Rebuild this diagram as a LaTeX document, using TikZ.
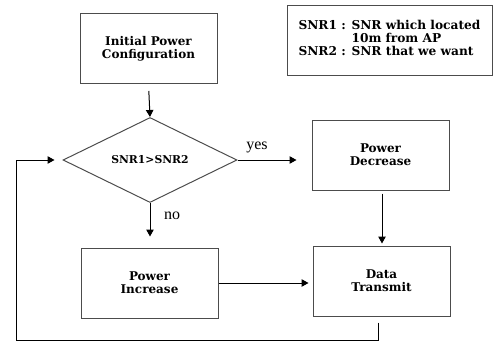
\documentclass[tikz,border=0pt]{standalone}
\usepackage{fontspec}
\setmainfont{DejaVu Serif}
\newfontfamily\lserif{Liberation Serif}
\usetikzlibrary{shapes.geometric,arrows.meta}
\tikzset{
  box/.style={draw=black!70, line width=1pt, minimum width=137pt, minimum height=70pt, inner sep=0pt, align=center, font=\bfseries\fontsize{12}{13}\selectfont},
  decision/.style={draw=black!70, line width=1pt, diamond, aspect=2, minimum width=174pt, minimum height=85pt, inner sep=0pt, font=\bfseries\fontsize{10.8}{12}\selectfont},
  arr/.style={draw=black, line width=1pt, -{Triangle[length=7pt,width=7.5pt]}},
  lbl/.style={font=\lserif\fontsize{16}{18}\selectfont, inner sep=0pt}
}
\begin{document}
\begin{tikzpicture}[x=1pt,y=-1pt]
\useasboundingbox (0,0) rectangle (493,343);
\node[box] (init) at (148.5,48.5) {Initial Power\\Configuration};
\node[box, minimum width=205pt, minimum height=70pt, font=\bfseries\fontsize{12.2}{12.5}\selectfont] (legend) at (389.5,40) {\begin{tabular}{@{}l@{ }c@{ }l@{}}SNR1 & : & SNR which located\\ & & 10m from AP\\ SNR2 & : & SNR that we want\end{tabular}};
\node[decision] (dia) at (150,160) {SNR1>SNR2};
\node[box] (dec) at (380.5,155) {Power\\Decrease};
\node[box] (trans) at (381.5,281) {Data\\Transmit};
\node[box] (inc) at (149.5,283) {Power\\Increase};
\node[lbl] (yes) at (257,147) {yes};
\node[lbl] (no) at (172,216) {no};
\coordinate (lb) at (16,340);
\draw[arr, shorten <=7pt] (init.south) -- (dia.north);
\draw[arr, shorten >=15pt] (dia.east) -- (dia.east -| dec.west);
\draw[arr, shorten >=11pt] (dia.south) -- (dia.south |- inc.north);
\draw[arr, shorten <=3pt, shorten >=2pt] ([xshift=1.5pt]dec.south) -- ([xshift=0.5pt]trans.north);
\draw[arr, shorten >=4pt] (inc.east) -- (inc.east -| trans.west);
\draw[arr] ([shift={(-3.5,6)}]trans.south) |- (lb) |- ([xshift=-8pt]dia.west);
\end{tikzpicture}
\end{document}
